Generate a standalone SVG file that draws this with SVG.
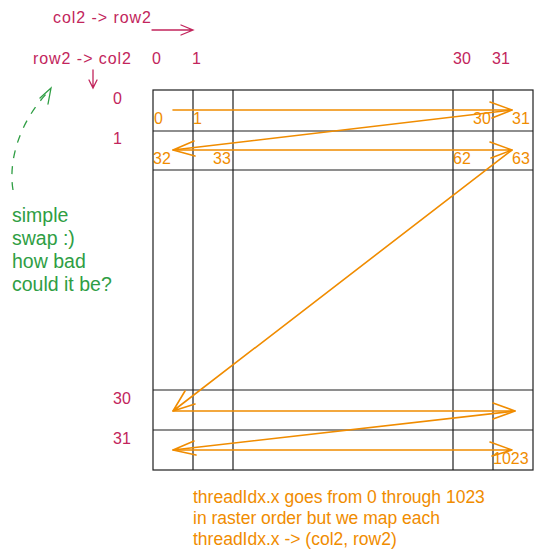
<svg xmlns="http://www.w3.org/2000/svg" width="542" height="560" viewBox="0 0 542 560">
<style>
.p{fill:#c2255c;font-family:"Liberation Sans",sans-serif;font-size:16px}
.o{fill:#f08c00;font-family:"Liberation Sans",sans-serif;font-size:16px}
.ob{fill:#f08c00;font-family:"Liberation Sans",sans-serif;font-size:17.5px}
.g{fill:#2f9e44;font-family:"Liberation Sans",sans-serif;font-size:19.5px}
.grid{stroke:#1e1e1e;stroke-width:1.2;fill:none}
.oa{stroke:#f08c00;stroke-width:1.6;fill:none;stroke-linecap:round;stroke-linejoin:round}
.pa{stroke:#c2255c;stroke-width:1.3;fill:none;stroke-linecap:round}
</style>
<rect width="542" height="560" fill="#ffffff"/>
<g id="grid" class="grid">
<rect x="153" y="90" width="380" height="380"/>
<line x1="193" y1="90" x2="193" y2="470"/>
<line x1="233" y1="90" x2="233" y2="470"/>
<line x1="453" y1="90" x2="453" y2="470"/>
<line x1="493" y1="90" x2="493" y2="470"/>
<line x1="153" y1="131" x2="533" y2="131"/>
<line x1="153" y1="170" x2="533" y2="170"/>
<line x1="153" y1="390" x2="533" y2="390"/>
<line x1="153" y1="430" x2="533" y2="430"/>
</g>
<g id="labels-top">
<text class="p" x="53" y="23" textLength="98">col2 -&gt; row2</text>
<text class="p" x="33" y="64" textLength="98">row2 -&gt; col2</text>
<text class="p" x="152" y="64">0</text>
<text class="p" x="192" y="64">1</text>
<text class="p" x="453" y="64">30</text>
<text class="p" x="492" y="64">31</text>
<text class="p" x="113" y="104">0</text>
<text class="p" x="113" y="144">1</text>
<text class="p" x="113" y="404">30</text>
<text class="p" x="113" y="444">31</text>
</g>
<g id="cell-labels">
<text class="o" x="154" y="124">0</text>
<text class="o" x="193" y="124">1</text>
<text class="o" x="473" y="124">30</text>
<text class="o" x="512" y="124">31</text>
<text class="o" x="153" y="164">32</text>
<text class="o" x="213" y="164">33</text>
<text class="o" x="453" y="164">62</text>
<text class="o" x="512" y="164">63</text>
<text class="o" x="493" y="464">1023</text>
</g>
<g id="connectors">
<path class="pa" d="M152 30 L192 30 M181 25 L193 30 L181 35"/>
<path class="pa" d="M93 70 L93 88 M89 80 L93 88 L97 80"/>
<path d="M13 190 C8 160 20 120 50 90" stroke="#2f9e44" stroke-width="1.3" fill="none" stroke-dasharray="8 8"/>
<path d="M40 98 L51 88 L48 104" stroke="#2f9e44" stroke-width="1.3" fill="none" stroke-linecap="round"/>
<path class="oa" d="M173 110 L512 110 M490 102 L512 110 L492 118"/>
<path class="oa" d="M512 110 L173 150 M194 141 L173 150 L195 156"/>
<path class="oa" d="M173 150 L512 150 M490 142 L512 150 L491 158"/>
<path class="oa" d="M512 150 L173 411 M185 391 L173 411 L195 404"/>
<path class="oa" d="M173 411 L515 411 M493 403 L515 411 L493 419"/>
<path class="oa" d="M515 411 L173 450 M194 441 L173 450 L196 455"/>
<path class="oa" d="M173 450 L512 450 M490 442 L512 450 L492 456"/>
</g>
<g id="note-green">
<text class="g" x="12" y="222">simple</text>
<text class="g" x="12" y="245">swap :)</text>
<text class="g" x="12" y="268">how bad</text>
<text class="g" x="12" y="291">could it be?</text>
</g>
<g id="note-bottom">
<text class="ob" x="193" y="503">threadIdx.x goes from 0 through 1023</text>
<text class="ob" x="193" y="524">in raster order but we map each</text>
<text class="ob" x="193" y="545">threadIdx.x -&gt; (col2, row2)</text>
</g>
</svg>
